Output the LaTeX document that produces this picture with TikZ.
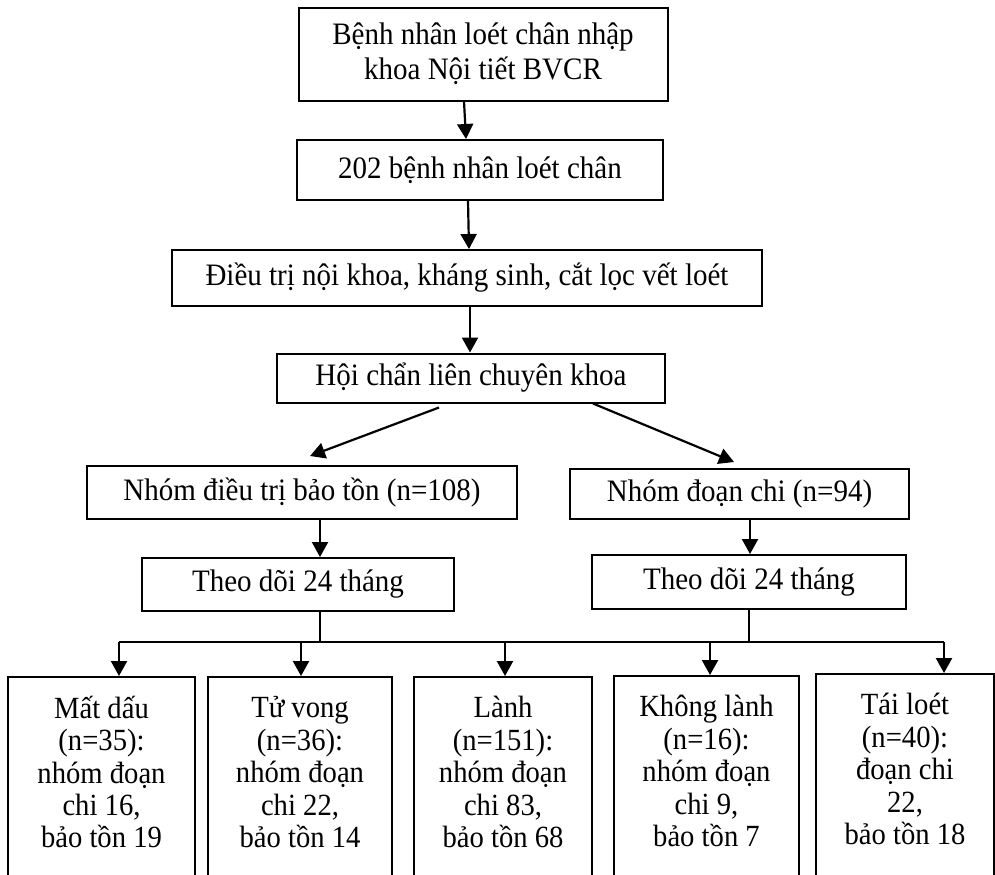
\documentclass[tikz,border=0pt]{standalone}
\usepackage{fontspec}
\setmainfont{Liberation Serif}[FakeStretch=0.93]
\usetikzlibrary{arrows.meta,calc}
\newcommand\mybfont{\fontsize{15.6}{17.5}\selectfont\setlength{\lineskiplimit}{-50pt}}
\newcommand\mycfont{\fontsize{15.4}{16.2}\selectfont\setlength{\lineskiplimit}{-50pt}}
\begin{document}
\begin{tikzpicture}[x=0.5pt,y=-0.5pt,
  box/.style={draw,line width=1pt,align=center,inner sep=0pt,font=\mybfont},
  bbox/.style={draw,line width=1pt,align=center,inner sep=0pt,font=\mycfont,minimum height=106pt,text depth=11pt},
  arr/.style={line width=1.1pt,-{Triangle[length=7.5pt,width=8pt]}},
  ln/.style={line width=1.1pt}]
\useasboundingbox (0,0) rectangle (995,874);
% main column
\node[box,minimum width=184.5pt,minimum height=46.5pt] (b1) at (483,54) {Bệnh nhân loét chân nhập\\khoa Nội tiết BVCR};
\node[box,minimum width=183pt,minimum height=30pt] (b2) at (480,170) {202 bệnh nhân loét chân};
\node[box,minimum width=295pt,minimum height=28pt] (b3) at (467,278) {Điều trị nội khoa, kháng sinh, cắt lọc vết loét};
\node[box,minimum width=194pt,minimum height=24.5pt] (b4) at (471,378) {Hội chẩn liên chuyên khoa};
\node[box,minimum width=215pt,minimum height=26.5pt] (b5) at (302,492.5) {Nhóm điều trị bảo tồn (n=108)};
\node[box,minimum width=169.5pt,minimum height=25pt] (b6) at (739.5,494) {Nhóm đoạn chi (n=94)};
\node[box,minimum width=156pt,minimum height=26.5pt] (b7) at (298,584.5) {Theo dõi 24 tháng};
\node[box,minimum width=157pt,minimum height=27pt] (b8) at (749,582) {Theo dõi 24 tháng};
% bottom boxes
\node[bbox,minimum width=93.5pt] (c1) at (101.5,783) {Mất dấu\\(n=35):\\nhóm đoạn\\chi 16,\\bảo tồn 19};
\node[bbox,minimum width=92pt] (c2) at (300,783) {Tử vong\\(n=36):\\nhóm đoạn\\chi 22,\\bảo tồn 14};
\node[bbox,minimum width=89pt] (c3) at (503,783) {Lành\\(n=151):\\nhóm đoạn\\chi 83,\\bảo tồn 68};
\node[bbox,minimum width=92.5pt] (c4) at (706.5,782) {Không lành\\(n=16):\\nhóm đoạn\\chi 9,\\bảo tồn 7};
\node[bbox,minimum width=89pt] (c5) at (905,780) {Tái loét\\(n=40):\\đoạn chi\\22,\\bảo tồn 18};
% connectors
\draw[arr] (b1.south -| 464,0) -- (b2.north -| 466,0);
\draw[arr] (b2.south -| 468,0) -- (b3.north -| 469,0);
\draw[arr] (b3.south -| 470,0) -- (b4.north -| 470,0);
\coordinate (s1) at ($(b4.south)+(-32,4)$);
\coordinate (s2) at ($(b4.south)+(122,0)$);
\coordinate (e1) at ($(b5.north)+(8,-9)$);
\coordinate (e2) at ($(b6.north)+(-5.5,-6)$);
\draw[arr] (s1) -- (e1);
\draw[arr] (s2) -- (e2);
\draw[arr] (b5.south -| 320,0) -- (b7.north -| 320,0);
\draw[arr] (b6.south -| 750,0) -- (b8.north -| 750,0);
% distribution
\coordinate (m1) at (320,642);
\coordinate (m2) at (749,642);
\coordinate (hl) at (119,642);
\coordinate (hr) at (944,642);
\draw[ln] (b7.south -| m1) -- (m1);
\draw[ln] (b8.south -| m2) -- (m2);
\draw[ln] (hl) -- (hr);
\coordinate (d2) at (301,642);
\coordinate (d3) at (505,642);
\coordinate (d4) at (710,642);
\draw[arr] (hl) -- (c1.north -| hl);
\draw[arr] (d2) -- (c2.north -| d2);
\draw[arr] (d3) -- (c3.north -| d3);
\draw[arr] (d4) -- (c4.north -| d4);
\draw[arr] (hr) -- (c5.north -| hr);
\end{tikzpicture}
\end{document}
